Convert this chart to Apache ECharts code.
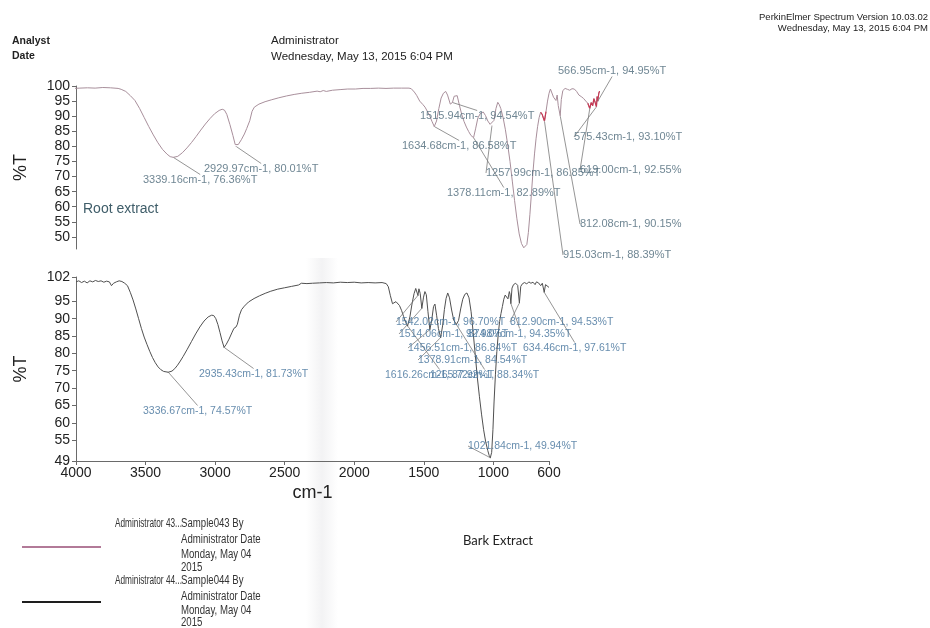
<!DOCTYPE html>
<html>
<head>
<meta charset="utf-8">
<script src="https://cdn.jsdelivr.net/npm/echarts@6/dist/echarts.min.js"></script>
<style>
  html, body { margin: 0; padding: 0; background: #ffffff; }
  #chart { width: 930px; height: 628px; }
</style>
</head>
<body>
<div id="chart"></div>
<script>
// Root extract spectrum (Sample043): [wavenumber cm-1, %T]
const rootSpectrum = [
  [4000,99.2],[3950,99.3],[3900,99.4],[3850,99.3],[3800,99.5],[3750,99.4],[3700,99.2],[3680,98.9],
  [3650,98.2],[3620,96.8],[3590,95.2],[3560,92.6],[3530,89.6],[3500,86.6],[3470,83.8],[3440,81.2],
  [3410,79.0],[3380,77.4],[3360,76.6],[3339.16,76.36],[3310,76.7],[3280,77.9],[3250,79.5],[3220,81.3],
  [3190,83.3],[3160,85.4],[3130,87.4],[3100,89.2],[3070,90.8],[3040,91.9],[3020,92.3],[3005,92.0],
  [2990,90.6],[2970,87.3],[2950,83.6],[2935,80.6],[2929.97,80.01],[2915,80.6],[2895,82.2],[2875,84.1],
  [2860,85.9],[2850,86.2],[2840,88.5],[2825,91.6],[2810,93.0],[2780,94.0],[2740,94.8],[2700,95.4],
  [2650,96.1],[2600,96.7],[2550,97.2],[2500,97.6],[2450,97.9],[2400,98.3],[2380,98.1],[2360,98.5],
  [2340,98.2],[2300,98.6],[2250,98.8],[2200,99.0],[2150,99.0],[2100,99.2],[2050,99.2],[2000,99.3],
  [1950,99.2],[1900,99.3],[1850,99.3],[1800,99.3],[1785,99.1],[1765,98.0],[1750,96.9],[1730,95.0],
  [1710,93.9],[1695,93.0],[1680,91.6],[1665,90.2],[1650,88.3],[1634.68,86.58],[1620,88.4],[1605,92.5],
  [1590,96.0],[1575,97.6],[1560,98.2],[1548,97.0],[1530,94.0],[1515.94,94.54],[1505,96.6],[1495,97.2],
  [1485,96.8],[1470,93.5],[1455,90.5],[1440,88.2],[1425,86.4],[1410,84.9],[1395,83.6],[1378.11,82.89],
  [1365,85.8],[1350,89.4],[1335,90.8],[1315,91.4],[1300,90.2],[1285,88.4],[1270,87.3],[1257.99,86.85],
  [1245,88.6],[1232,92.5],[1220,94.6],[1210,93.8],[1200,92.5],[1185,89.5],[1170,85.5],[1155,80.5],
  [1140,75.0],[1125,68.5],[1110,62.0],[1095,56.0],[1080,51.0],[1065,47.8],[1050,46.4],[1040,46.3],
  [1030,47.5],[1020,51.5],[1010,57.5],[1000,64.5],[990,71.5],[980,77.5],[970,82.5],[960,86.5],
  [950,89.5],[940,91.3],[930,90.6],[922,89.4],[915.03,88.39],[905,91.5],[895,95.0],[885,97.6],
  [876,99.0],[866,98.4],[856,96.3],[840,95.2],[832,97.0],[825,93.5],[812.08,90.15],[805,95.5],
  [795,98.5],[780,99.2],[765,98.9],[750,98.6],[735,99.1],[720,99.0],[705,98.2],[690,97.0],
  [675,96.5],[660,95.9],[645,95.0],[632,94.3],[619.00,92.55],[610,94.5],[600,93.5],[592,95.8],
  [584,94.6],[575.43,93.10],[571,96.5],[566.95,94.95],[560,97.6],[555,98.3]
];

// Bark extract spectrum (Sample044): [wavenumber cm-1, %T]
const barkSpectrum = [
  [4000,100.6],[3980,100.9],[3960,100.4],[3940,100.8],[3920,100.3],[3900,100.9],[3880,100.6],[3860,101.0],
  [3840,100.7],[3820,100.9],[3800,100.5],[3780,100.8],[3760,100.6],[3745,99.5],[3730,100.2],[3710,100.6],
  [3690,100.9],[3670,100.7],[3650,100.2],[3630,99.5],[3610,97.6],[3590,95.4],[3570,92.8],[3550,90.0],
  [3530,87.2],[3510,84.7],[3490,82.6],[3470,80.6],[3450,78.8],[3430,77.3],[3410,76.1],[3390,75.3],
  [3370,74.8],[3336.67,74.57],[3310,74.9],[3290,75.6],[3270,76.6],[3250,77.8],[3230,79.1],[3200,81.2],
  [3170,83.4],[3140,85.6],[3110,87.6],[3080,89.3],[3050,90.5],[3025,91.0],[3010,90.9],[2995,90.0],
  [2980,88.3],[2965,86.0],[2950,83.6],[2935.43,81.73],[2920,82.6],[2900,84.1],[2880,85.9],[2865,87.2],
  [2850,87.6],[2840,88.4],[2825,91.0],[2810,92.6],[2790,93.6],[2760,94.8],[2720,95.8],[2680,96.6],
  [2640,97.3],[2600,97.9],[2550,98.5],[2500,98.9],[2450,99.3],[2400,99.7],[2380,100.2],[2370,99.8],
  [2340,100.1],[2300,100.2],[2250,100.3],[2200,100.4],[2150,100.3],[2100,100.5],[2050,100.4],[2000,100.5],
  [1950,100.3],[1900,100.4],[1850,100.3],[1800,100.4],[1770,100.1],[1755,99.2],[1740,96.6],[1725,94.3],
  [1712,93.9],[1700,94.9],[1690,94.6],[1675,93.8],[1660,92.4],[1645,90.6],[1630,88.9],[1616.26,87.92],
  [1600,90.5],[1585,94.2],[1570,97.2],[1558,98.7],[1550,98.9],[1542.02,96.70],[1535,98.6],[1526,97.3],
  [1514.06,92.98],[1502,96.2],[1492,97.8],[1482,96.9],[1470,92.0],[1456.51,86.84],[1443,89.6],[1430,93.5],
  [1420,94.2],[1408,91.0],[1395,87.2],[1378.91,84.54],[1365,87.9],[1352,92.6],[1340,95.8],[1328,97.4],
  [1315,96.0],[1300,92.5],[1285,89.6],[1265.72,88.34],[1250,89.5],[1235,92.8],[1220,95.6],[1205,97.0],
  [1190,97.4],[1175,96.0],[1160,92.0],[1145,86.0],[1130,79.5],[1115,73.0],[1100,67.5],[1085,62.5],
  [1070,58.0],[1055,54.5],[1040,52.0],[1030,50.6],[1021.84,49.94],[1012,51.5],[1003,58.0],[995,66.0],
  [985,74.0],[975,80.5],[965,85.5],[955,89.2],[945,91.5],[935,93.5],[925,95.6],[915,96.8],
  [905,96.6],[895,95.7],[885,97.8],[880,97.0],[874.07,94.35],[866,98.8],[855,99.8],[840,100.2],
  [825,99.6],[812.90,94.53],[803,99.3],[790,100.1],[775,100.4],[760,100.0],[745,100.6],[730,100.2],
  [715,100.5],[700,99.8],[690,100.6],[675,100.3],[660,99.5],[648,100.2],[634.46,97.61],[625,99.8],
  [612,100.3],[600,99.0]
];

// Annotated peaks
const rootPeaks = [
  [3339.16,76.36],[2929.97,80.01],[1634.68,86.58],[1515.94,94.54],[1378.11,82.89],[1257.99,86.85],
  [915.03,88.39],[812.08,90.15],[619.00,92.55],[575.43,93.10],[566.95,94.95]
];
const barkPeaks = [
  [3336.67,74.57],[2935.43,81.73],[1542.02,96.70],[812.90,94.53],[1514.06,92.98],[874.07,94.35],
  [1456.51,86.84],[634.46,97.61],[1378.91,84.54],[1616.26,87.92],[1265.72,88.34],[1021.84,49.94]
];

// Tick labels
const rootTicks = [46,50,55,60,65,70,75,80,85,90,95,100];
const barkTicks = [49,55,60,65,70,75,80,85,90,95,102];
const waveTicks = [4000,3500,3000,2500,2000,1500,1000,600];

// Label anchor spots (page pixels, left edge / vertical middle of each label)
const rootLabelSpots = [
  [143,180],[204,169],[402,146],[420,116],[447,193],[486,173],
  [563,255],[580,224],[580,170],[574,137],[558,71]
];
const barkLabelSpots = [
  [143,411],[199,374],[396,322],[510,322],[399,334],[468,334],
  [408,348],[523,348],[418,360],[385,375],[430,375],[468,446]
];
const labelRightLimit = 684;

const FONT = 'Liberation Sans, Arial, sans-serif';
const peakText = (v) => v[0].toFixed(2) + 'cm-1, ' + v[1].toFixed(2) + '%T';

// red-highlighted stretches of the root trace
const hiliteRanges = [[945, 905], [640, 555]];
const rootHilite = rootSpectrum.map(p =>
  hiliteRanges.some(r => p[0] <= r[0] && p[0] >= r[1]) ? p : [p[0], null]);

const chart = echarts.init(document.getElementById('chart'), null, { renderer: 'canvas' });

const yAxisCommon = (min, max, ticks) => ({
  type: 'value', min: min, max: max,
  axisLine: { show: true, lineStyle: { color: '#6a6a6a', width: 1 } },
  axisTick: { show: true, length: 4, customValues: ticks, lineStyle: { color: '#6a6a6a' } },
  axisLabel: { customValues: ticks, color: '#222', fontSize: 14, fontFamily: FONT, margin: 6 },
  splitLine: { show: false },
  name: '%T', nameLocation: 'middle', nameGap: 46, nameRotate: 90,
  nameTextStyle: { fontSize: 18, color: '#222', fontFamily: FONT }
});

const legendText = (x, y, text, sx) => ({
  type: 'text', x: x, y: y, scaleX: sx,
  style: { text: text, font: '12.5px ' + FONT, fill: '#333', verticalAlign: 'middle' }
});

chart.setOption({
  animation: false,
  backgroundColor: '#ffffff',
  grid: [
    { left: 76, top: 86, width: 530, height: 163 },
    { left: 76, top: 277, width: 473, height: 184 }
  ],
  xAxis: [
    { gridIndex: 0, type: 'value', min: 513, max: 3975, inverse: true, show: false },
    {
      gridIndex: 1, type: 'value', min: 600, max: 4000, inverse: true,
      axisLine: { show: true, lineStyle: { color: '#6a6a6a', width: 1 } },
      axisTick: { show: true, length: 4, customValues: waveTicks, lineStyle: { color: '#6a6a6a' } },
      axisLabel: { customValues: waveTicks, color: '#222', fontSize: 14, fontFamily: FONT, margin: 5,
                   formatter: (v) => String(v) },
      splitLine: { show: false },
      name: 'cm-1', nameLocation: 'middle', nameGap: 23,
      nameTextStyle: { fontSize: 18, color: '#222', fontFamily: FONT }
    }
  ],
  yAxis: [
    Object.assign({ gridIndex: 0 }, yAxisCommon(46, 100, rootTicks)),
    Object.assign({ gridIndex: 1 }, yAxisCommon(49, 102, barkTicks))
  ],
  series: [
    {
      type: 'line', xAxisIndex: 0, yAxisIndex: 0, data: rootSpectrum,
      showSymbol: false, lineStyle: { color: '#a88f9b', width: 1 }, z: 3
    },
    {
      type: 'line', xAxisIndex: 0, yAxisIndex: 0, data: rootHilite, connectNulls: false,
      showSymbol: false, lineStyle: { color: '#c73a55', width: 1.2 }, z: 4
    },
    {
      type: 'scatter', xAxisIndex: 0, yAxisIndex: 0, data: rootPeaks,
      symbolSize: 1, itemStyle: { color: '#a88f9b' }, z: 5,
      label: {
        show: true, fontSize: 11, fontFamily: FONT, color: '#4b6878',
        formatter: (p) => peakText(p.value), overflow: 'truncate', ellipsis: ''
      },
      labelLine: { show: true, lineStyle: { color: '#7a7a7a', width: 0.8 } },
      labelLayout: (p) => ({
        x: rootLabelSpots[p.dataIndex][0], y: rootLabelSpots[p.dataIndex][1],
        align: 'left', verticalAlign: 'middle',
        width: labelRightLimit - rootLabelSpots[p.dataIndex][0]
      })
    },
    {
      type: 'line', xAxisIndex: 1, yAxisIndex: 1, data: barkSpectrum,
      showSymbol: false, lineStyle: { color: '#505050', width: 1 }, z: 3
    },
    {
      type: 'scatter', xAxisIndex: 1, yAxisIndex: 1, data: barkPeaks,
      symbolSize: 1, itemStyle: { color: '#505050' }, z: 5,
      label: {
        show: true, fontSize: 10.5, fontFamily: FONT, color: '#41709a',
        formatter: (p) => peakText(p.value)
      },
      labelLine: { show: true, lineStyle: { color: '#7a7a7a', width: 0.8 } },
      labelLayout: (p) => ({
        x: barkLabelSpots[p.dataIndex][0], y: barkLabelSpots[p.dataIndex][1],
        align: 'left', verticalAlign: 'middle'
      })
    }
  ],
  graphic: [
    // faint vertical scan shadow
    {
      type: 'rect', z: -10, silent: true,
      shape: { x: 306, y: 258, width: 32, height: 370 },
      style: {
        fill: new echarts.graphic.LinearGradient(0, 0, 1, 0, [
          { offset: 0, color: 'rgba(160,160,170,0)' },
          { offset: 0.5, color: 'rgba(160,160,170,0.13)' },
          { offset: 1, color: 'rgba(160,160,170,0)' }
        ])
      }
    },
    { type: 'text', x: 12, y: 41, style: { text: 'Analyst', font: 'bold 10.5px ' + FONT, fill: '#222', verticalAlign: 'middle' } },
    { type: 'text', x: 12, y: 56, style: { text: 'Date', font: 'bold 10.5px ' + FONT, fill: '#222', verticalAlign: 'middle' } },
    { type: 'text', x: 271, y: 41, style: { text: 'Administrator', font: '11.5px ' + FONT, fill: '#222', verticalAlign: 'middle' } },
    { type: 'text', x: 271, y: 57, style: { text: 'Wednesday, May 13, 2015 6:04 PM', font: '11.5px ' + FONT, fill: '#222', verticalAlign: 'middle' } },
    { type: 'text', x: 928, y: 17, style: { text: 'PerkinElmer Spectrum Version 10.03.02', font: '9.5px ' + FONT, fill: '#222', align: 'right', verticalAlign: 'middle' } },
    { type: 'text', x: 928, y: 28, style: { text: 'Wednesday, May 13, 2015 6:04 PM', font: '9.5px ' + FONT, fill: '#222', align: 'right', verticalAlign: 'middle' } },
    { type: 'text', x: 83, y: 209, style: { text: 'Root extract', font: '14px ' + FONT, fill: '#3f5d69', verticalAlign: 'middle' } },
    // legend block
    { type: 'line', shape: { x1: 22, y1: 547, x2: 101, y2: 547 }, style: { stroke: '#b27a98', lineWidth: 2 } },
    { type: 'line', shape: { x1: 22, y1: 602, x2: 101, y2: 602 }, style: { stroke: '#1e1e1e', lineWidth: 2 } },
    legendText(115, 524, 'Administrator 43...', 0.66),
    legendText(181, 524, 'Sample043 By', 0.77),
    legendText(181, 540, 'Administrator Date', 0.77),
    legendText(181, 555, 'Monday, May 04', 0.77),
    legendText(181, 568, '2015', 0.77),
    legendText(115, 581, 'Administrator 44...', 0.66),
    legendText(181, 581, 'Sample044 By', 0.77),
    legendText(181, 597, 'Administrator Date', 0.77),
    legendText(181, 611, 'Monday, May 04', 0.77),
    legendText(181, 623, '2015', 0.77),
    { type: 'text', x: 463, y: 541, style: { text: 'Bark Extract', font: '13px Lato, "Open Sans", sans-serif', fill: '#222', verticalAlign: 'middle' } }
  ]
});
</script>
</body>
</html>
